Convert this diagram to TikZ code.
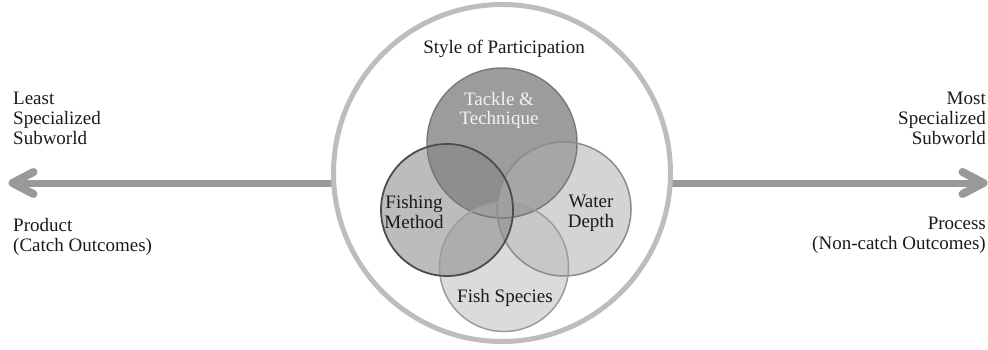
\documentclass[tikz,border=0pt]{standalone}
\usepackage{fontspec}
\setmainfont{Liberation Serif}
\usetikzlibrary{arrows.meta}
\definecolor{ringgray}{HTML}{BDBDBD}
\definecolor{arrowgray}{HTML}{999999}
\definecolor{tfill}{HTML}{9C9C9C}
\definecolor{tline}{HTML}{787878}
\definecolor{ffill}{HTML}{BCBCBC}
\definecolor{fline}{HTML}{4D4D4D}
\definecolor{wfill}{HTML}{D4D4D4}
\definecolor{wline}{HTML}{8C8C8C}
\definecolor{sfill}{HTML}{DBDBDB}
\definecolor{sline}{HTML}{9C9C9C}
\definecolor{tfcol}{HTML}{8E8E8E}
\definecolor{twcol}{HTML}{A6A6A6}
\definecolor{fscol}{HTML}{ADADAD}
\definecolor{wscol}{HTML}{C7C7C7}
\definecolor{midcol}{HTML}{A0A0A0}
\definecolor{txt}{HTML}{1A1A1A}
\definecolor{lighttxt}{HTML}{F2F2F2}
\begin{document}
\begin{tikzpicture}[x=1pt,y=-1pt,
  lbl/.style={font=\fontsize{19}{20}\selectfont, text=txt, inner sep=0pt},
  ring/.style={circle, draw=ringgray, line width=5pt, fill=white, inner sep=0pt},
  shaft/.style={draw=arrowgray, line width=7pt,
     -{Straight Barb[round, length=21pt, width=22pt, line width=8pt]}},
  setc/.style={circle, inner sep=0pt}
]
\path[use as bounding box] (0,0) rectangle (988,350);
% radii
\def\rT{75pt}\def\rF{66pt}\def\rW{67pt}\def\rS{64.5pt}
% arrows
\coordinate (lstart) at (340,183);
\coordinate (ltip) at (8.5,183);
\coordinate (rstart) at (664,183);
\coordinate (rtip) at (987.5,183);
\draw[shaft] (lstart) -- (ltip);
\draw[shaft] (rstart) -- (rtip);
% big circle
\node[ring, minimum size=337pt] (big) at (502,173) {};
% set circles as named nodes
\node[setc, minimum size=150pt] (T) at (502,143) {};
\node[setc, minimum size=132pt] (F) at (447,210) {};
\node[setc, minimum size=134pt] (W) at (564,209) {};
\node[setc, minimum size=129pt] (S) at (504,267) {};
% fills
\fill[sfill] (S.center) circle (\rS);
\fill[wfill] (W.center) circle (\rW);
\fill[ffill] (F.center) circle (\rF);
\fill[tfill] (T.center) circle (\rT);
\begin{scope}\clip (T.center) circle (\rT); \fill[tfcol] (F.center) circle (\rF); \end{scope}
\begin{scope}\clip (T.center) circle (\rT); \fill[twcol] (W.center) circle (\rW); \end{scope}
\begin{scope}\clip (F.center) circle (\rF); \fill[fscol] (S.center) circle (\rS); \end{scope}
\begin{scope}\clip (W.center) circle (\rW); \fill[wscol] (S.center) circle (\rS); \end{scope}
\begin{scope}\clip (F.center) circle (\rF); \fill[midcol] (W.center) circle (\rW); \end{scope}
\begin{scope}\clip (T.center) circle (\rT); \fill[midcol] (S.center) circle (\rS); \end{scope}
% outlines
\draw[tline, line width=1.4pt] (T.center) circle (\rT);
\draw[wline, line width=1.5pt] (W.center) circle (\rW);
\draw[sline, line width=1.5pt] (S.center) circle (\rS);
\draw[fline, line width=1.8pt] (F.center) circle (\rF);
% labels (base anchor = baseline of the last line)
\node[lbl, anchor=base] (style) at (504,54) {Style of Participation};
\node[lbl, anchor=base, align=center, text=lighttxt] (tt) at (499,125) {Tackle \&\\Technique};
\node[lbl, anchor=base, align=center] (fm) at (414,228) {Fishing\\Method};
\node[lbl, anchor=base, align=center] (wd) at (591,227) {Water\\Depth};
\node[lbl, anchor=base] (fs) at (505,302) {Fish Species};
\node[lbl, anchor=base west, align=left] (least) at (13,145) {Least\\Specialized\\Subworld};
\node[lbl, anchor=base west, align=left] (prod) at (13,251) {Product\\(Catch Outcomes)};
\node[lbl, anchor=base east, align=right] (most) at (986,145) {Most\\Specialized\\Subworld};
\node[lbl, anchor=base east, align=right] (proc) at (986,249) {Process\\(Non-catch Outcomes)};
\end{tikzpicture}
\end{document}
